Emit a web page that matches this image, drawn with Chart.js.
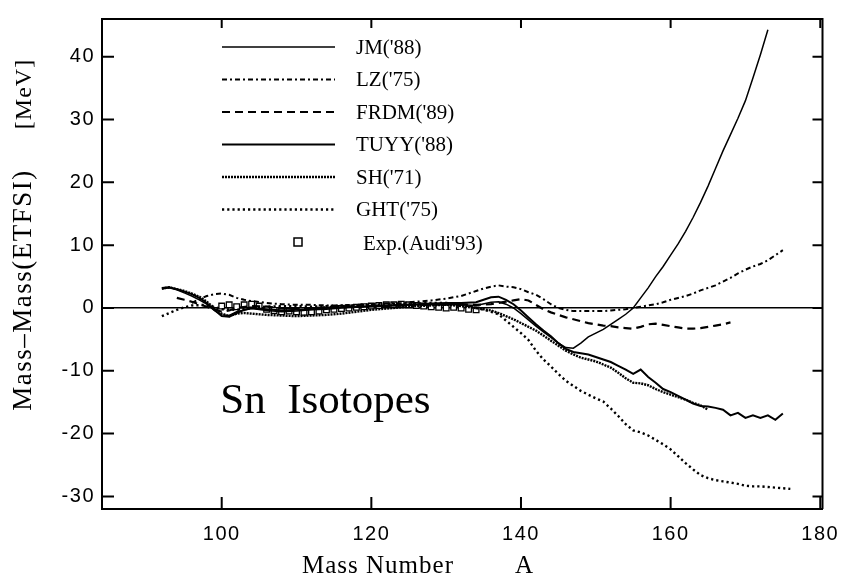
<!DOCTYPE html>
<html>
<head>
<meta charset="utf-8">
<script src="https://cdn.jsdelivr.net/npm/chart.js@4"></script>
<style>
  html, body { margin: 0; padding: 0; background: #fff; }
</style>
</head>
<body>
<canvas id="massChart" width="850" height="583"></canvas>
<script>

// tick labels
const xTicks = [100, 120, 140, 160, 180];
const yTicks = [-30, -20, -10, 0, 10, 20, 30, 40];

// JM('88)
const jmA = [92,93,94,95,96,97,98,99,100,101,102,
    104,106,108,110,112,114,116,118,120,122,124,126,128,130,132,134,136,
    137,138,139,140,141,142,143,144,145,146,147,148,149,150,151,152,153,154,
    155,156,157,158,159,160,161,162,163,164,165,166,167,168,169,170,171,172,173];
const jmE = [3.0,3.2,2.9,2.4,1.9,1.3,0.6,-0.4,-1.1,-1.2,-0.6,
    -0.1,-0.4,-0.6,-0.5,-0.3,-0.2,0,0.1,0.2,0.3,0.4,0.5,0.5,0.6,0.5,0.4,0.9,
    1.0,0.6,0,-0.9,-1.9,-2.9,-3.8,-4.7,-5.6,-6.3,-6.4,-5.6,-4.6,-4.0,-3.4,-2.6,-1.8,-1.0,
    0,1.6,3.2,5.0,6.6,8.4,10.2,12.2,14.4,16.8,19.4,22.2,25.0,27.6,30.2,33.0,36.6,40.3,44.3];

// LZ('75)
const lzA = [96,97,98,99,100,101,102,103,104,
    106,108,110,112,114,116,118,120,122,124,126,128,130,132,
    133,134,135,136,137,138,139,140,141,142,143,144,145,146,147,148,149,150,
    151,152,153,154,155,156,157,158,159,160,161,162,163,164,165,166,167,168,169,170,
    171,172,173,174,175];
const lzE = [0.8,1.4,1.9,2.2,2.3,2.1,1.6,1.3,1.1,
    0.8,0.6,0.5,0.5,0.4,0.4,0.5,0.6,0.7,0.8,1.0,1.2,1.5,1.9,
    2.3,2.7,3.1,3.4,3.6,3.4,3.3,3.0,2.5,2.1,1.4,0.6,0,-0.3,-0.5,-0.5,-0.5,-0.5,
    -0.5,-0.4,-0.3,-0.2,0,0.2,0.4,0.6,0.9,1.3,1.6,1.9,2.3,2.8,3.2,3.6,4.2,4.8,5.5,6.1,
    6.6,7.0,7.6,8.4,9.2];

// FRDM('89)
const frdmA = [94,95,96,97,98,99,100,101,102,
    104,106,108,110,112,114,116,118,120,122,124,126,128,130,132,134,136,
    138,139,140,141,142,143,144,145,146,147,148,149,150,151,152,153,154,
    155,156,157,158,159,160,161,162,163,164,165,166,167,168];
const frdmE = [1.6,1.3,1.0,0.6,0.2,-0.2,-0.6,-0.4,0,
    0.3,0.2,0,-0.1,0,0.1,0.2,0.2,0.3,0.3,0.4,0.5,0.5,0.6,0.6,0.5,0.6,
    1.0,1.2,1.4,1.2,0.5,-0.2,-0.7,-1.1,-1.5,-1.8,-2.1,-2.4,-2.6,-2.8,-2.9,-3.1,-3.2,
    -3.3,-3.0,-2.6,-2.5,-2.7,-2.9,-3.1,-3.3,-3.3,-3.2,-3.0,-2.8,-2.6,-2.3];

// TUYY('88)
const tuyyA = [92,93,94,95,96,97,98,99,100,101,102,103,104,
    106,108,110,112,114,116,118,120,122,124,126,128,130,132,134,
    135,136,137,138,139,140,141,142,143,144,145,146,147,148,149,150,151,152,153,154,
    155,156,157,158,159,160,161,162,163,164,165,166,167,168,169,170,171,172,173,174,175];
const tuyyE = [3.2,3.3,3.0,2.6,2.2,1.6,0.8,-0.3,-1.3,-1.4,-0.8,-0.3,0,
    -0.2,-0.4,-0.3,-0.2,0,0.1,0.2,0.3,0.4,0.5,0.6,0.7,0.8,0.8,0.9,
    1.3,1.7,1.8,1.3,0.6,-0.4,-1.5,-2.6,-3.6,-4.5,-5.6,-6.5,-7.0,-7.2,-7.4,-7.8,-8.2,-8.6,-9.2,-9.8,
    -10.5,-9.8,-11.0,-11.9,-12.9,-13.4,-14.0,-14.6,-15.2,-15.6,-15.7,-15.9,-16.2,-17.1,-16.7,-17.5,-17.1,-17.5,-17.1,-17.8,-16.8];

// SH('71)
const shA = [92,93,94,95,96,97,98,99,100,101,102,103,104,
    106,108,110,112,114,116,118,120,122,124,126,128,130,132,134,
    135,136,137,138,139,140,141,142,143,144,145,146,147,148,149,150,151,152,153,154,
    155,156,157,158,159,160,161,162,163,164,165];
const shE = [3.1,3.3,3.0,2.7,2.3,1.8,1.0,0,-0.9,-1.3,-0.9,-0.8,-0.9,
    -1.1,-1.2,-1.3,-1.2,-1.1,-0.9,-0.6,-0.3,-0.1,0.1,0.3,0.4,0.5,0.3,0,
    -0.2,-0.4,-0.8,-1.3,-1.8,-2.4,-3.0,-3.6,-4.4,-5.2,-6.0,-6.8,-7.4,-7.9,-8.2,-8.5,-9.0,-9.5,-10.3,-11.2,
    -11.9,-12.0,-12.3,-12.9,-13.4,-13.8,-14.2,-14.6,-15.1,-15.5,-16.2];

// GHT('75)
const ghtA = [92,93,94,95,96,
    98,100,102,104,106,108,110,112,114,116,118,120,122,124,126,128,130,132,
    133,134,135,136,137,138,139,140,141,142,143,144,145,146,147,148,149,150,
    151,152,153,154,155,156,157,158,159,160,161,162,163,164,165,166,167,168,169,170,
    171,172,173,174,175,176];
const ghtE = [-1.3,-0.8,-0.3,0.1,0.4,
    0.5,-0.2,-0.3,0,0.2,0.3,0.3,0.2,0.3,0.4,0.4,0.5,0.6,0.7,0.7,0.8,0.8,0.6,
    0.3,0,-0.3,-0.6,-1.0,-2.0,-3.0,-4.0,-5.1,-6.8,-8.2,-9.3,-10.5,-11.6,-12.4,-13.2,-13.8,-14.4,
    -14.9,-16.0,-17.2,-18.5,-19.5,-19.8,-20.3,-21.0,-21.7,-22.5,-23.6,-24.7,-25.7,-26.6,-27.1,-27.4,-27.6,-27.8,-28.0,-28.3,
    -28.4,-28.4,-28.5,-28.6,-28.7,-28.8];

// Exp.(Audi'93)
const expA = [100,101,102,103,104,105,106,107,108,109,110,111,112,113,114,115,116,117,
    118,119,120,121,122,123,124,125,126,127,128,129,130,131,132,133,134];
const expE = [0.3,0.5,0.2,0.5,0.6,0.3,-0.2,-0.4,-0.6,-0.5,-0.6,-0.7,-0.6,-0.5,-0.3,-0.2,-0.1,0,
    0.1,0.2,0.3,0.4,0.5,0.5,0.6,0.5,0.4,0.3,0.2,0.1,0,0.1,0,-0.2,-0.3];

function pts(a, e) {
    return a.map((v, i) => ({ x: v, y: e[i] }));
}

const serif = "'Liberation Serif', 'Times New Roman', serif";
const sans = "'Liberation Sans', Arial, sans-serif";

function lineSet(label, a, e, width, dash) {
    return {
        label: label,
        data: pts(a, e),
        borderColor: '#000',
        backgroundColor: '#000',
        borderWidth: width,
        borderDash: dash,
        pointRadius: 0,
        fill: false
    };
}

// legend, frame, inward ticks and texts
const framePlugin = {
    id: 'framePlugin',
    beforeDraw(chart) {
        chart.ctx.letterSpacing = '1.5px';
    },
    beforeDatasetsDraw(chart) {
        chart.ctx.letterSpacing = '0px';
    },
    afterDraw(chart) {
        const ctx = chart.ctx;
        const area = chart.chartArea;
        const xs = chart.scales.x;
        const ys = chart.scales.y;

        ctx.save();
        ctx.letterSpacing = '0px';
        ctx.strokeStyle = '#000';
        ctx.lineWidth = 2;
        ctx.setLineDash([]);

        // top and right frame
        ctx.beginPath();
        ctx.moveTo(area.left, area.top);
        ctx.lineTo(area.right, area.top);
        ctx.lineTo(area.right, area.bottom);
        ctx.stroke();

        // inward ticks
        ctx.beginPath();
        xTicks.forEach((v) => {
            const px = xs.getPixelForValue(v);
            ctx.moveTo(px, area.bottom);
            ctx.lineTo(px, area.bottom - 12);
            ctx.moveTo(px, area.top);
            ctx.lineTo(px, area.top + 9);
        });
        yTicks.forEach((v) => {
            const py = ys.getPixelForValue(v);
            ctx.moveTo(area.left, py);
            ctx.lineTo(area.left + 12, py);
            ctx.moveTo(area.right, py);
            ctx.lineTo(area.right - 10, py);
        });
        ctx.stroke();

        // legend
        const rowY0 = 47;
        const rowStep = 32.5;
        ctx.fillStyle = '#000';
        ctx.font = '21px ' + serif;
        ctx.textBaseline = 'middle';
        ctx.textAlign = 'left';
        chart.data.datasets.forEach((ds, i) => {
            const y = rowY0 + i * rowStep;
            if (ds.showLine === false) {
                ctx.setLineDash([]);
                ctx.lineWidth = 1.5;
                ctx.strokeRect(294, y - 4, 8, 8);
                ctx.fillText(ds.label, 363, y + 2);
            } else {
                ctx.setLineDash(ds.borderDash || []);
                ctx.lineWidth = ds.borderWidth;
                ctx.beginPath();
                ctx.moveTo(222, y);
                ctx.lineTo(335, y);
                ctx.stroke();
                ctx.fillText(ds.label, 356, y + 1);
            }
        });

        // Sn Isotopes
        ctx.font = '43px ' + serif;
        ctx.textBaseline = 'alphabetic';
        ctx.fillText('Sn  Isotopes', xs.getPixelForValue(99.8), ys.getPixelForValue(-16.7));

        // axis titles
        ctx.font = '25px ' + serif;
        ctx.letterSpacing = '1px';
        ctx.fillText('Mass Number', 302, 573);
        ctx.fillText('A', 515, 573);

        ctx.translate(31, 0);
        ctx.rotate(-Math.PI / 2);
        ctx.textAlign = 'center';
        ctx.font = '27px ' + serif;
        ctx.letterSpacing = '1.5px';
        ctx.fillText('Mass\u2013Mass(ETFSI)', -290, 0);
        ctx.font = '24px ' + serif;
        ctx.letterSpacing = '1px';
        ctx.fillText('[MeV]', -94, 0);
        ctx.restore();
    }
};

const ctx = document.getElementById('massChart').getContext('2d');

const massChart = new Chart(ctx, {

    type: 'line',

    data: {
        datasets: [
            lineSet("JM('88)", jmA, jmE, 1.5, []),
            lineSet("LZ('75)", lzA, lzE, 2, [5, 3, 2, 3]),
            lineSet("FRDM('89)", frdmA, frdmE, 2.2, [8, 5]),
            lineSet("TUYY('88)", tuyyA, tuyyE, 2, []),
            lineSet("SH('71)", shA, shE, 2.4, [2, 1]),
            lineSet("GHT('75)", ghtA, ghtE, 2.4, [2.2, 3]),
            {
                label: "Exp.(Audi'93)",
                data: pts(expA, expE),
                showLine: false,
                pointStyle: 'rect',
                pointRadius: 4,
                borderColor: '#000',
                backgroundColor: '#fff',
                pointBorderWidth: 1.3
            }
        ]
    },

    options: {

        responsive: false,
        animation: false,

        layout: {
            padding: { top: 7, right: 18, left: 0, bottom: 0 }
        },

        plugins: {
            legend: { display: false },
            tooltip: { enabled: false }
        },

        elements: {
            line: { tension: 0 }
        },

        scales: {

            x: {
                type: 'linear',
                min: 84,
                max: 180.3,
                afterBuildTicks: (s) => { s.ticks = xTicks.map((v) => ({ value: v })); },
                afterFit: (s) => { s.height = 74; },
                grid: { display: false, drawTicks: false },
                border: { display: true, color: '#000', width: 2 },
                ticks: {
                    color: '#000',
                    padding: 13,
                    maxRotation: 0,
                    font: { family: sans, size: 20 }
                }
            },

            y: {
                type: 'linear',
                min: -32,
                max: 46,
                afterBuildTicks: (s) => { s.ticks = yTicks.map((v) => ({ value: v })); },
                afterFit: (s) => { s.width = 102; },
                grid: {
                    drawTicks: false,
                    lineWidth: 1.6,
                    color: (c) => (c.tick && c.tick.value === 0) ? '#000' : 'rgba(0,0,0,0)'
                },
                border: { display: true, color: '#000', width: 2 },
                ticks: {
                    color: '#000',
                    padding: 7,
                    font: { family: sans, size: 20 }
                }
            }
        }
    },

    plugins: [framePlugin]
});
</script>
</body>
</html>
